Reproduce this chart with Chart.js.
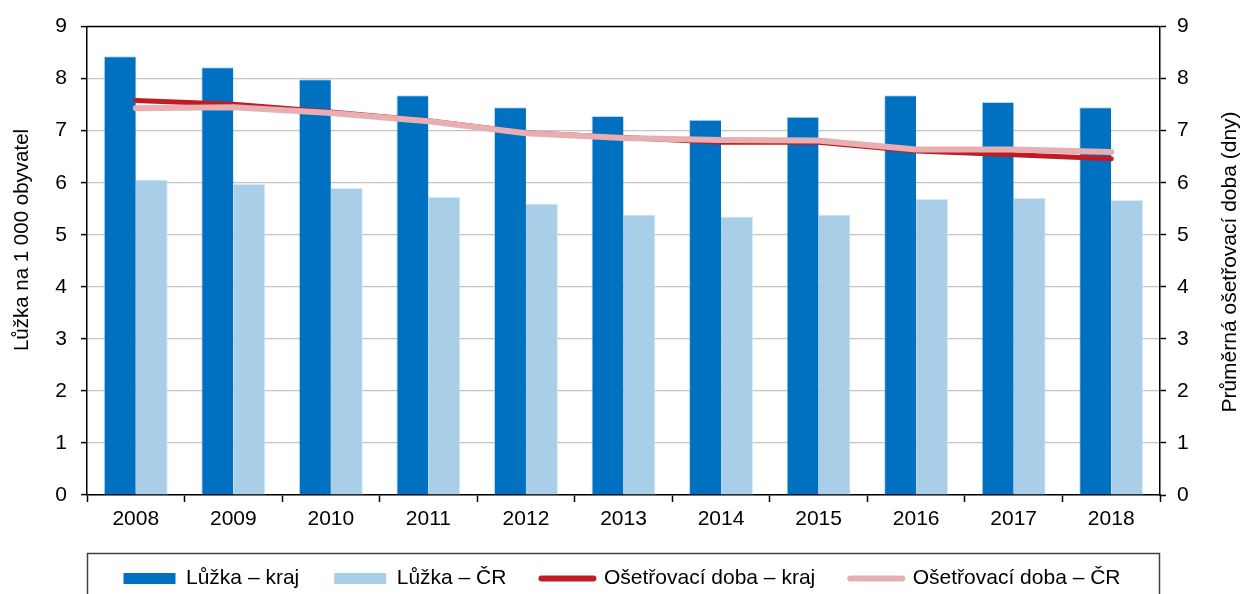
<!DOCTYPE html>
<html>
<head>
<meta charset="utf-8">
<script src="https://cdn.jsdelivr.net/npm/chart.js@4/dist/chart.umd.min.js"></script>
<style>
  html, body { margin: 0; padding: 0; background: #fff; overflow: hidden; }
  #wrap { position: relative; width: 1244px; height: 599px; }
</style>
</head>
<body>
<div id="wrap"><canvas id="c"></canvas></div>
<script>
const years = ['2008', '2009', '2010', '2011', '2012', '2013', '2014', '2015', '2016', '2017', '2018'];
const bedsRegion = [8.43, 8.22, 7.99, 7.68, 7.45, 7.28, 7.21, 7.27, 7.68, 7.55, 7.45];
const bedsCR = [6.06, 5.98, 5.90, 5.73, 5.60, 5.39, 5.35, 5.39, 5.69, 5.71, 5.67];
const stayRegion = [7.58, 7.51, 7.36, 7.19, 6.96, 6.87, 6.78, 6.78, 6.61, 6.54, 6.46];
const stayCR = [7.43, 7.45, 7.34, 7.18, 6.95, 6.86, 6.82, 6.81, 6.64, 6.64, 6.59];
const yTicks = [0, 1, 2, 3, 4, 5, 6, 7, 8, 9];

const labelsText = {
  bedsRegion: 'Lůžka – kraj',
  bedsCR: 'Lůžka – ČR',
  stayRegion: 'Ošetřovací doba – kraj',
  stayCR: 'Ošetřovací doba – ČR',
  yLeft: 'Lůžka na 1 000 obyvatel',
  yRight: 'Průměrná ošetřovací doba (dny)'
};

const FS = 21;
Chart.defaults.font.family = "'Liberation Sans', Arial, sans-serif";
Chart.defaults.font.size = FS;
Chart.defaults.color = '#000';

function drawVerticalText(ctx, text, x, y, size) {
  ctx.save();
  ctx.fillStyle = '#000';
  ctx.font = size + "px 'Liberation Sans', Arial, sans-serif";
  ctx.textAlign = 'center';
  ctx.textBaseline = 'middle';
  ctx.translate(x, y);
  ctx.rotate(-Math.PI / 2);
  ctx.fillText(text, 0, 0);
  ctx.restore();
}

const framePlugin = {
  id: 'frame',
  afterDraw(chart) {
    const ctx = chart.ctx;
    const a = chart.chartArea;
    ctx.save();
    ctx.strokeStyle = '#000';
    ctx.lineWidth = 1.5;
    ctx.beginPath();
    ctx.moveTo(a.left, a.top);
    ctx.lineTo(a.right, a.top);
    ctx.stroke();
    ctx.strokeStyle = '#404040';
    ctx.lineWidth = 1.5;
    ctx.strokeRect(a.left + 0.5, a.bottom + 58.5, a.right - a.left - 1, 200);
    ctx.restore();
    drawVerticalText(ctx, labelsText.yLeft, 22, 240, 20.5);
    drawVerticalText(ctx, labelsText.yRight, 1230, 262, FS);
  }
};

new Chart(document.getElementById('c'), {
  type: 'bar',
  data: {
    labels: years,
    datasets: [
      { type: 'bar', label: labelsText.bedsRegion, data: bedsRegion, backgroundColor: '#0070C0', borderColor: 'rgba(140,190,230,0.6)', borderWidth: { top: 1, left: 1, right: 0, bottom: 0 }, yAxisID: 'y', order: 2, barPercentage: 1, categoryPercentage: 0.656 },
      { type: 'bar', label: labelsText.bedsCR, data: bedsCR, backgroundColor: '#A9CEE8', borderColor: 'rgba(210,230,245,0.8)', borderWidth: { top: 1, left: 0, right: 1, bottom: 0 }, yAxisID: 'y', order: 3, barPercentage: 1, categoryPercentage: 0.656 },
      { type: 'line', label: labelsText.stayRegion, data: stayRegion, borderColor: '#BE1E23', backgroundColor: '#BE1E23', borderWidth: 5, pointRadius: 0, tension: 0, borderCapStyle: 'round', yAxisID: 'y1', order: 1 },
      { type: 'line', label: labelsText.stayCR, data: stayCR, borderColor: '#E8AFB2', backgroundColor: '#E8AFB2', borderWidth: 6, pointRadius: 0, tension: 0, borderCapStyle: 'round', yAxisID: 'y1', order: 0 }
    ]
  },
  options: {
    responsive: true,
    maintainAspectRatio: false,
    animation: false,
    layout: { padding: { top: 23, left: 0, right: 0, bottom: 0 } },
    plugins: {
      tooltip: { enabled: false },
      legend: {
        position: 'bottom',
        labels: {
          usePointStyle: true,
          pointStyleWidth: 52,
          boxHeight: 11,
          padding: 35,
          color: '#000',
          font: { size: FS },
          generateLabels(chart) {
            return chart.data.datasets.map((ds, i) => {
              const isLine = ds.type === 'line';
              return {
                text: ds.label,
                datasetIndex: i,
                fillStyle: isLine ? ds.borderColor : ds.backgroundColor,
                strokeStyle: isLine ? ds.borderColor : ds.backgroundColor,
                lineWidth: isLine ? 6 : 0,
                lineCap: 'round',
                pointStyle: isLine ? 'line' : 'rect',
                hidden: false,
                fontColor: '#000'
              };
            });
          }
        }
      }
    },
    scales: {
      x: {
        afterFit(s) { s.height = 38; },
        grid: { display: true, drawOnChartArea: false, drawTicks: true, offset: true, tickLength: 7, tickColor: '#000', tickWidth: 1.5 },
        border: { display: true, color: '#000', width: 1.5 },
        ticks: { padding: 5, color: '#000', font: { size: FS } }
      },
      y: {
        position: 'left',
        min: 0, max: 9,
        afterFit(s) { s.width = 87; },
        afterBuildTicks(s) { s.ticks = yTicks.map(v => ({ value: v })); },
        grid: { color: '#C4C4C4', lineWidth: 1.2, tickLength: 6, tickColor: '#000', tickWidth: 1.5 },
        border: { display: true, color: '#000', width: 1.5 },
        ticks: { padding: 14, color: '#000', font: { size: FS } }
      },
      y1: {
        position: 'right',
        min: 0, max: 9,
        afterFit(s) { s.width = 84; },
        afterBuildTicks(s) { s.ticks = yTicks.map(v => ({ value: v })); },
        grid: { drawOnChartArea: false, tickLength: 6, tickColor: '#000', tickWidth: 1.5 },
        border: { display: true, color: '#000', width: 1.5 },
        ticks: { padding: 11, color: '#000', font: { size: FS } }
      }
    }
  },
  plugins: [framePlugin]
});
</script>
</body>
</html>
